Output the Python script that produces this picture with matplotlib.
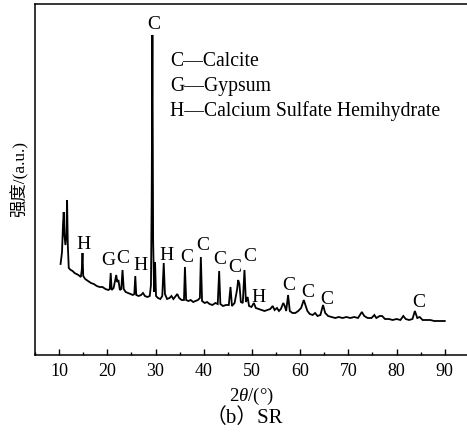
import matplotlib
matplotlib.use("Agg")
import matplotlib.pyplot as plt
from matplotlib.ticker import MultipleLocator, NullLocator

# XRD pattern of sample SR (2-theta in degrees, intensity in counts)
two_theta = [
    10.3, 10.6, 10.8, 10.95, 11.1, 11.3, 11.5, 11.65, 11.8, 12.0, 12.4, 12.8,
    13.2, 13.6, 14.0, 14.5, 14.7, 14.85, 15.0, 15.4, 16.0, 16.6, 17.2, 17.8,
    18.4, 19.0, 19.6, 20.2, 20.5, 20.7, 20.9, 21.3, 21.6, 21.85, 22.05, 22.3,
    22.6, 22.9, 23.15, 23.4, 23.8, 24.3, 24.8, 25.3, 25.6, 25.8, 26.0, 26.5,
    27.0, 27.4, 27.8, 28.3, 28.8, 29.05, 29.2, 29.35, 29.5, 29.7, 29.9, 30.1,
    30.5, 31.0, 31.4, 31.7, 31.95, 32.4, 32.9, 33.3, 33.7, 34.2, 34.5, 34.9,
    35.4, 35.9, 36.1, 36.35, 36.8, 37.3, 37.8, 38.3, 38.8, 39.2, 39.4, 39.65,
    40.2, 40.7, 41.2, 41.8, 42.4, 42.9, 43.2, 43.45, 44.0, 44.6, 45.2, 45.55,
    45.85, 46.4, 46.9, 47.15, 47.4, 47.7, 48.1, 48.45, 48.75, 49.1, 49.4, 49.9,
    50.4, 50.8, 51.4, 52.0, 52.6, 53.2, 53.8, 54.3, 54.7, 55.2, 55.6, 56.0,
    56.5, 56.8, 57.1, 57.5, 57.85, 58.4, 59.0, 59.6, 60.2, 60.75, 61.1, 61.5,
    62.0, 62.6, 63.1, 63.6, 64.2, 64.75, 65.2, 65.8, 66.5, 67.3, 68.0, 68.8,
    69.6, 70.4, 71.2, 72.0, 72.8, 73.3, 74.0, 74.8, 75.4, 75.8, 76.5, 77.0,
    77.6, 78.4, 79.2, 80.0, 80.8, 81.4, 81.9, 82.6, 83.3, 83.8, 84.3, 84.8,
    85.4, 86.2, 87.0, 87.8, 88.6, 89.3, 90.0,
]
intensity = [
    1820, 2060, 2600, 2860, 2400, 2200, 2400, 3100, 2200, 1740, 1700, 1680,
    1640, 1620, 1600, 1560, 1700, 2040, 1580, 1520, 1480, 1440, 1420, 1380,
    1360, 1360, 1320, 1300, 1320, 1640, 1300, 1340, 1480, 1600, 1460, 1500,
    1300, 1320, 1700, 1320, 1260, 1240, 1220, 1200, 1220, 1580, 1200, 1180,
    1200, 1240, 1180, 1160, 1180, 1400, 3100, 6400, 2300, 1260, 1860, 1180,
    1140, 1120, 1180, 1840, 1220, 1120, 1140, 1180, 1120, 1180, 1220, 1140,
    1100, 1100, 1760, 1100, 1080, 1100, 1060, 1080, 1100, 1140, 1960, 1080,
    1040, 1060, 1020, 1000, 1040, 1020, 1680, 1020, 980, 1000, 1000, 1360,
    980, 1040, 1300, 1500, 1420, 1060, 1040, 1700, 1060, 1160, 980, 960,
    1040, 940, 920, 900, 880, 900, 920, 980, 900, 940, 880, 920,
    1040, 980, 880, 1200, 880, 840, 840, 880, 940, 1100, 1000, 880,
    820, 800, 840, 780, 800, 1000, 840, 780, 760, 740, 760, 740,
    760, 740, 760, 740, 860, 780, 740, 740, 800, 740, 780, 780,
    720, 720, 700, 720, 700, 780, 720, 700, 720, 880, 740, 760,
    700, 700, 700, 680, 680, 680, 680,
]

# Phase identification of the marked reflections
peak_phase = ["C", "H", "G", "C", "H", "H", "C", "C", "C", "C", "C", "H",
              "C", "C", "C", "C"]
peak_label_theta = [29.7, 15.1, 20.1, 23.1, 26.85, 32.3, 36.4, 39.7, 43.3,
                    46.45, 49.5, 51.4, 57.7, 61.5, 65.6, 84.7]
peak_label_height = [6600, 2200, 1880, 1920, 1780, 1990, 1950, 2190, 1900,
                     1750, 1960, 1150, 1390, 1250, 1110, 1040]

phase_key = ["C—Calcite", "G—Gypsum", "H—Calcium Sulfate Hemihydrate"]

x_ticks = [10, 20, 30, 40, 50, 60, 70, 80, 90]

serif = ["Liberation Serif", "Noto Sans CJK SC"]
plt.rcParams["font.family"] = serif
plt.rcParams["mathtext.fontset"] = "custom"
plt.rcParams["mathtext.it"] = "Liberation Serif:italic"
plt.rcParams["mathtext.rm"] = "Liberation Serif"

fig = plt.figure(figsize=(4.67, 4.41), dpi=100)
ax = fig.add_axes([0.075, 0.195, 0.929, 0.796])

ax.plot(two_theta, intensity, color="black", lw=1.3, solid_joinstyle="miter")

for lab, tx, ty in zip(peak_phase, peak_label_theta, peak_label_height):
    ax.text(tx, ty, lab, ha="center", va="center", fontsize=14)

for i, line in enumerate(phase_key):
    ax.text(0.311, 0.823 - i * 0.071, line, transform=ax.transAxes,
            ha="left", va="baseline", fontsize=14.2)

ax.set_xlim(5, 95)
ax.set_ylim(0, 7020)
ax.set_xticks(x_ticks)
ax.xaxis.set_minor_locator(MultipleLocator(5))
ax.yaxis.set_major_locator(NullLocator())
ax.tick_params(axis="x", which="major", direction="in", length=4, width=1.0,
               labelsize=13, pad=6)
ax.tick_params(axis="x", which="minor", direction="in", length=2.5, width=1.0)

for side in ("left", "bottom", "top"):
    ax.spines[side].set_linewidth(1.1)
ax.spines["right"].set_visible(False)

ax.set_xlabel(r"2$\it{\theta}$/(°)", fontsize=13.5, labelpad=4)
ax.set_ylabel("强度/(a.u.)", fontsize=12.5, labelpad=5)

fig.text(0.523, 0.053, "（b）SR", ha="center", va="center", fontsize=15)

fig.savefig("out.png", dpi=100)
